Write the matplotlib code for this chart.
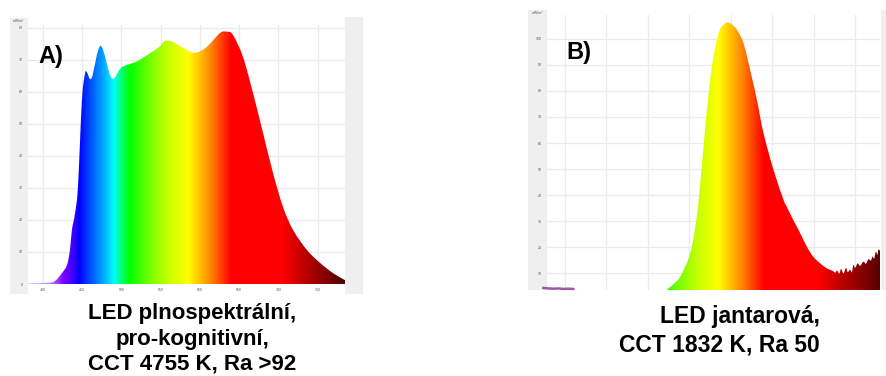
import numpy as np
import matplotlib
matplotlib.use("Agg")
import matplotlib.pyplot as plt
from matplotlib.colors import LinearSegmentedColormap
from matplotlib.patches import PathPatch
from matplotlib.path import Path

plt.rcParams['font.family'] = ['Liberation Sans', 'DejaVu Sans']

# spectrum A: full-spectrum LED (wavelength nm, relative power)
wl_a = [381, 408.9, 416.6, 424.2, 430.6, 434.4, 436.9, 440.8, 444.6, 449.7, 453.5,
        455.7, 462.0, 473.5, 487.5, 500.3, 519.4, 536.3, 549.0, 555.4, 565.6,
        578.3, 593.6, 608.9, 625.5, 634.4, 642.0, 654.8, 667.5, 680.3, 693.0,
        705.7, 718.5, 736.3, 752.9, 769.4, 784.7]
pw_a = [0.3, 0.4, 1.2, 3.4, 5.9, 10.6, 16.9, 22.0, 30.3, 57.5, 65.6,
        66.3, 64.3, 74.4, 64.3, 67.7, 69.5, 72.1, 74.2, 76.0, 75.6,
        73.8, 72.2, 74.1, 78.4, 78.8, 77.8, 70.9, 59.7, 47.2, 34.7,
        24.1, 16.9, 10.6, 6.6, 3.4, 1.2]

# spectrum B: amber LED
wl_b = [378, 515, 522.8, 530, 538.9, 551.0, 559.0, 565.0, 571.1, 577.2, 585.2,
        593.2, 599.3, 607.4, 615.4, 623.4, 631.5, 639.5, 651.6, 663.7, 667.5,
        675.4, 683.8, 691.8, 699.5, 708, 716, 722, 726, 728, 731, 733, 736,
        739, 741, 744, 746, 748, 750, 753, 756, 760, 763, 766, 769, 771, 773,
        775, 777, 778, 780]
pw_b = [0, 0, 3.5, 5.5, 8.6, 17.6, 31.7, 50.9, 72.7, 89.3, 102.2,
        106.0, 106.0, 103.5, 98.3, 88.0, 76.5, 63.7, 49.6, 38.1, 35.5,
        30.4, 25.3, 20.1, 16.3, 13.7, 11.8, 11.0, 10.2, 11.0, 9.8, 11.6, 9.9,
        12.0, 10.4, 11.3, 10.3, 13.1, 12.0, 13.7, 12.8, 14.4, 13.6, 15.3, 14.8,
        16.3, 15.6, 18.2, 17.0, 19.0, 18.6]
# low purple trace at the blue end of B
wl_b_uv = [374, 380, 386, 392, 398, 404, 410]
pw_b_uv = [4.3, 4.1, 4.0, 4.1, 3.9, 4.0, 3.9]

ticks_x = [400, 450, 500, 550, 600, 650, 700, 750, 800]
ticks_y_a = [0, 10, 20, 30, 40, 50, 60, 70, 80]
ticks_y_b = [10, 20, 30, 40, 50, 60, 70, 80, 90, 100]

caption_a = "LED plnospektrální,\npro-kognitivní,\nCCT 4755 K, Ra >92"
caption_b = "LED jantarová,\nCCT 1832 K, Ra 50"

# wavelength -> colour
stops = [(380, '#e6d6f7'), (410, '#b070ff'), (425, '#8000ff'), (437, '#4000ff'),
         (446, '#0000ff'), (460, '#0050ff'), (475, '#00a0ff'), (490, '#00ffff'),
         (500, '#00ff70'), (510, '#00ff00'), (535, '#70ff00'), (560, '#c8ff00'),
         (585, '#ffff00'), (600, '#ffc000'), (615, '#ff8000'), (640, '#ff0000'),
         (705, '#ff0000'), (740, '#b00000'), (785, '#500000')]
lo, hi = stops[0][0], stops[-1][0]
spec_cmap = LinearSegmentedColormap.from_list(
    'spec', [((w - lo) / (hi - lo), c) for w, c in stops])

W, H = 887, 376
fig = plt.figure(figsize=(W / 100, H / 100), dpi=100)


def box(x0, y0, x1, y1):
    return [x0 / W, 1 - y1 / H, (x1 - x0) / W, (y1 - y0) / H]


def strip(x0, y0, x1, y1):
    s = fig.add_axes(box(x0, y0, x1, y1))
    s.set_facecolor('#efefef')
    s.set_xticks([])
    s.set_yticks([])
    for sp in s.spines.values():
        sp.set_visible(False)
    return s


def smooth_outline(wl, pw):
    # closed outline, Catmull-Rom segments through the measured points
    p = np.column_stack([wl, pw]).astype(float)
    verts = [(wl[0], 0.0), tuple(p[0])]
    codes = [Path.MOVETO, Path.LINETO]
    for i in range(len(p) - 1):
        p0 = p[max(i - 1, 0)]
        p1, p2 = p[i], p[i + 1]
        p3 = p[min(i + 2, len(p) - 1)]
        c1 = p1 + (p2 - p0) / 6
        c2 = p2 - (p3 - p1) / 6
        verts += [tuple(c1), tuple(c2), tuple(p2)]
        codes += [Path.CURVE4] * 3
    verts += [(wl[-1], 0.0), (wl[0], 0.0)]
    codes += [Path.LINETO, Path.CLOSEPOLY]
    return Path(verts, codes)


def spectrum(ax, wl, pw, xlim, ylim, yticks):
    ax.set_xticks(ticks_x)
    ax.set_yticks(yticks)
    ax.grid(color='#ebebeb', lw=0.9)
    ax.set_axisbelow(True)
    ax.tick_params(length=0, labelsize=2.5, labelcolor='#555555', pad=4)
    for sp in ax.spines.values():
        sp.set_visible(False)
    clip = PathPatch(smooth_outline(wl, pw), transform=ax.transData,
                     facecolor='none', edgecolor='none')
    ax.add_patch(clip)
    grad = np.linspace(xlim[0], xlim[1], 600)[None, :]
    im = ax.imshow(grad, cmap=spec_cmap, vmin=lo, vmax=hi, aspect='auto',
                   extent=[xlim[0], xlim[1], ylim[0], ylim[1]], origin='lower',
                   zorder=2, interpolation='bilinear')
    im.set_clip_path(clip)
    ax.set_xlim(*xlim)
    ax.set_ylim(*ylim)


# panel A
strip(10, 18, 28, 294)
strip(345, 17, 363, 294)
ax_a = fig.add_axes(box(28, 25, 345, 284))
spectrum(ax_a, wl_a, pw_a, (381, 784.7), (0, 80.9), ticks_y_a)
ax_a.tick_params(axis='x', pad=3)
fig.text(18 / W, 1 - 21 / H, 'mW/m²', fontsize=2.5, color='#555555',
         ha='center', va='center')
fig.text(51 / W, 1 - 57 / H, 'A)', fontsize=17, fontweight='bold',
         ha='center', va='center')
fig.text(192 / W, 1 - 339 / H, caption_a, fontsize=16, fontweight='bold',
         ha='center', va='center', multialignment='center', linespacing=1.26)

# panel B (bottom edge of the chart is cut off, so no wavelength labels)
strip(528, 10, 547, 290)
strip(881, 10, 887, 290)
ax_b = fig.add_axes(box(547, 15, 880, 290))
spectrum(ax_b, wl_b, pw_b, (378.3, 780), (3.5, 109.2), ticks_y_b)
ax_b.tick_params(axis='x', labelbottom=False)
ax_b.plot(wl_b_uv, pw_b_uv, color='#8a2a8f', lw=1.8, alpha=0.8, zorder=3,
          clip_on=False)
fig.text(537 / W, 1 - 13 / H, 'mW/m²', fontsize=2.5, color='#555555',
         ha='center', va='center')
fig.text(579 / W, 1 - 53 / H, 'B)', fontsize=17, fontweight='bold',
         ha='center', va='center')
fig.text(820 / W, 1 - 331 / H, caption_b, fontsize=16.5, fontweight='bold',
         ha='right', va='center', multialignment='right', linespacing=1.3)

fig.savefig('out.png', dpi=100)
